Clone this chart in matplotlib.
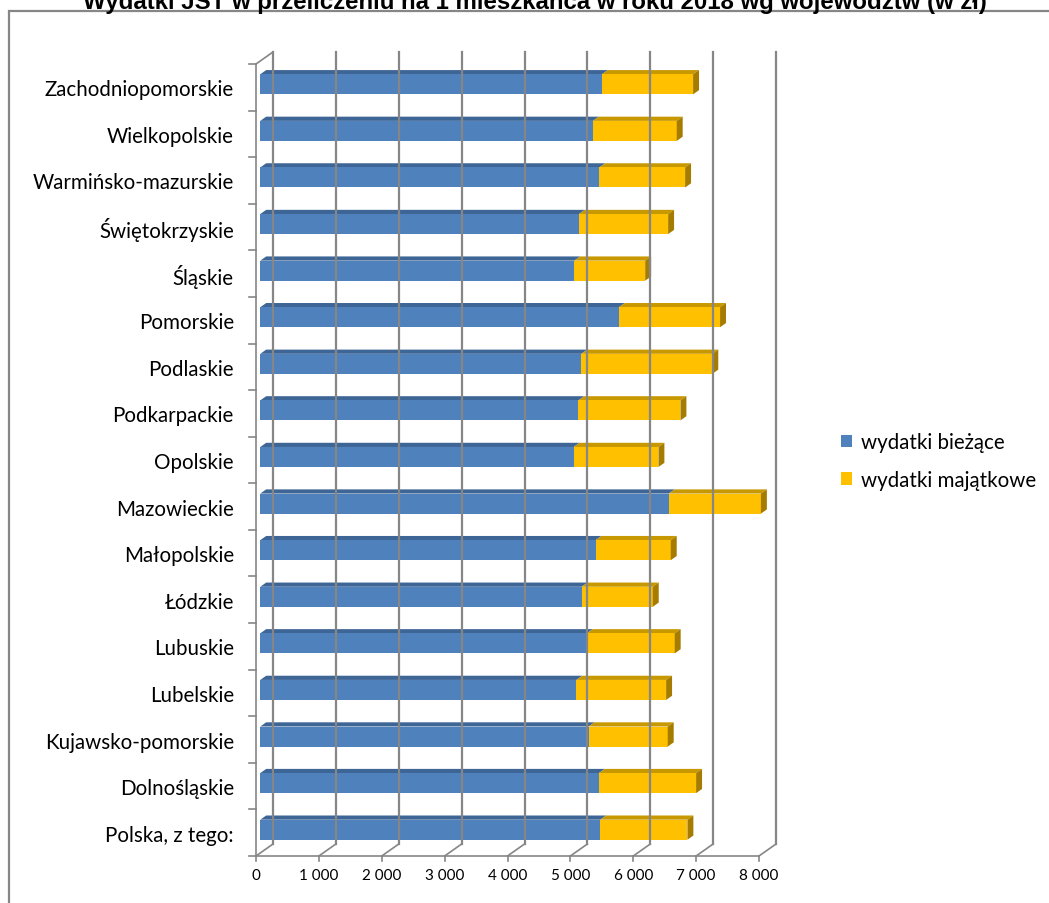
import matplotlib.pyplot as plt
from matplotlib.patches import Polygon, Rectangle, Patch
from matplotlib.lines import Line2D

# dane (zł na mieszkańca), od dołu do góry
wojewodztwa = ["Polska, z tego:", "Dolnośląskie", "Kujawsko-pomorskie", "Lubelskie",
               "Lubuskie", "Łódzkie", "Małopolskie", "Mazowieckie", "Opolskie",
               "Podkarpackie", "Podlaskie", "Pomorskie", "Śląskie", "Świętokrzyskie",
               "Warmińsko-mazurskie", "Wielkopolskie", "Zachodniopomorskie"]
wydatki_biezace = [5408, 5386, 5222, 5027, 5196, 5111, 5333, 6497, 4984,
                   5058, 5106, 5704, 4995, 5069, 5392, 5291, 5434]
wydatki_majatkowe = [1386, 1546, 1259, 1428, 1396, 1132, 1196, 1466, 1349,
                     1625, 2084, 1609, 1127, 1418, 1365, 1333, 1450]
x_ticks = [0, 1000, 2000, 3000, 4000, 5000, 6000, 7000, 8000]
x_labels = ["0", "1 000", "2 000", "3 000", "4 000", "5 000", "6 000", "7 000", "8 000"]

W, H = 1049, 904
fig = plt.figure(figsize=(W / 100, H / 100), dpi=100)

# płaszczyzna przednia wykresu (w pikselach)
left, right, top, bottom = 256, 759, 65, 857
ax = fig.add_axes([left / W, 1 - bottom / H, (right - left) / W, (bottom - top) / H])
n = len(wojewodztwa)
ax.set_xlim(0, 8000)
ax.set_ylim(-0.5, n - 0.5)

# głębokość 3D w jednostkach danych
px_x = 8000 / (right - left)
px_y = n / (bottom - top)
DX = 17 * px_x
DY = 12 * px_y
grid_c = '#868686'

# ściana tylna + podłoga
for v in x_ticks:
    ax.add_line(Line2D([v + DX, v + DX], [-0.5 + DY, n - 0.5 + DY], color=grid_c, lw=1.6, clip_on=False))
    ax.add_line(Line2D([v, v + DX], [-0.5, -0.5 + DY], color=grid_c, lw=1.2, clip_on=False))
ax.add_line(Line2D([0, 8000], [-0.5, -0.5], color=grid_c, lw=1.2, clip_on=False))
# ściana lewa
ax.add_line(Line2D([0, 0], [-0.5, n - 0.5], color=grid_c, lw=1.2, clip_on=False))
ax.add_line(Line2D([0, DX], [n - 0.5, n - 0.5 + DY], color=grid_c, lw=1.2, clip_on=False))
for k in range(n + 1):
    ax.add_line(Line2D([-7 * px_x, 0], [k - 0.5, k - 0.5], color=grid_c, lw=1.2, clip_on=False))
for v in x_ticks:
    ax.add_line(Line2D([v, v], [-0.5, -0.5 - 5 * px_y], color=grid_c, lw=1.2, clip_on=False))

# słupki 3D
zf, zb = 0.25, 0.6
h = 0.43
kolory = [('#4F81BD', '#3D6596', '#34567F'), ('#FFC000', '#C89800', '#A67C00')]
for i in range(n):
    segs = [(0, wydatki_biezace[i]), (wydatki_biezace[i], wydatki_biezace[i] + wydatki_majatkowe[i])]
    for j, (a, b) in enumerate(segs):
        front, topc, side = kolory[j]
        x0, x1 = a + zf * DX, b + zf * DX
        y0, y1 = i - h / 2 + zf * DY, i + h / 2 + zf * DY
        ddx, ddy = (zb - zf) * DX, (zb - zf) * DY
        ax.add_patch(Polygon([(x0, y1), (x1, y1), (x1 + ddx, y1 + ddy), (x0 + ddx, y1 + ddy)],
                             closed=True, facecolor=topc, edgecolor='none', clip_on=False))
        ax.add_patch(Rectangle((x0, y0), x1 - x0, y1 - y0, facecolor=front,
                               edgecolor='none', clip_on=False))
        if j == 1:
            ax.add_patch(Polygon([(x1, y0), (x1, y1), (x1 + ddx, y1 + ddy), (x1 + ddx, y0 + ddy)],
                                 closed=True, facecolor=side, edgecolor='none', clip_on=False))

for s in ax.spines.values():
    s.set_visible(False)
ax.set_yticks(range(n))
ax.set_yticklabels(wojewodztwa, fontsize=14.8, family='Lato', color='#000000')
ax.tick_params(axis='y', length=0, pad=16)
ax.set_xticks(x_ticks)
ax.set_xticklabels(x_labels, fontsize=11, family='Lato', color='#000000')
ax.tick_params(axis='x', length=0, pad=8.5)
ax.set_facecolor('none')

# legenda
uchwyty = [Patch(facecolor='#4F81BD', label='wydatki bieżące'),
           Patch(facecolor='#FFC000', label='wydatki majątkowe')]
fig.legend(handles=uchwyty, loc='center left', bbox_to_anchor=(822 / W, 1 - 462 / H),
           frameon=False, prop={'family': 'Lato', 'size': 14.8},
           handlelength=0.55, handleheight=0.55, handletextpad=0.45, labelspacing=0.85)

# ramka obszaru wykresu
fig.patches.append(Rectangle((9 / W, -0.01), 1.1, 1 - 12 / H + 0.01, transform=fig.transFigure,
                             facecolor='none', edgecolor=grid_c, lw=1.6))

fig.text(535 / W, 1 - 9 / H, 'Wydatki JST w przeliczeniu na 1 mieszkańca w roku 2018 wg województw (w zł)',
         ha='center', va='baseline', fontsize=17.3, fontweight='bold', family='Liberation Sans')

fig.savefig('out.png', dpi=100)
